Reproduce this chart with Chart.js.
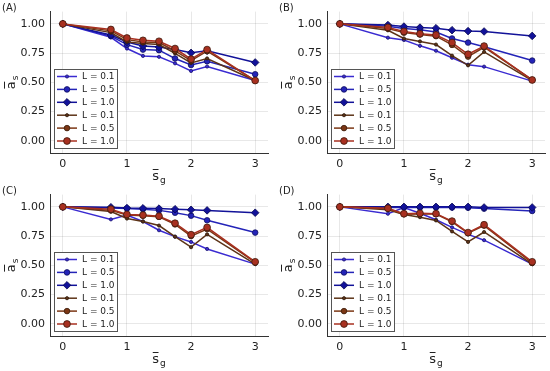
<!DOCTYPE html>
<html>
<head>
<meta charset="utf-8">
<script src="https://cdn.jsdelivr.net/npm/chart.js@4/dist/chart.umd.min.js"></script>
<style>
  html, body { margin: 0; padding: 0; background: #fff; width: 550px; height: 371px; overflow: hidden; }
  .panel { position: absolute; }
</style>
</head>
<body>
<canvas id="pA" class="panel" width="273" height="185" style="left:0px;top:0px"></canvas>
<canvas id="pB" class="panel" width="273" height="185" style="left:277px;top:0px"></canvas>
<canvas id="pC" class="panel" width="273" height="185" style="left:0px;top:183px"></canvas>
<canvas id="pD" class="panel" width="273" height="185" style="left:277px;top:183px"></canvas>
<script>
// ---- data ----
const xValues = [0, 0.75, 1, 1.25, 1.5, 1.75, 2, 2.25, 3];
const xTicks = [0, 1, 2, 3];
const yTicks = [0, 0.25, 0.5, 0.75, 1];
const panelLabels = ['(A)', '(B)', '(C)', '(D)'];
const seriesLabels = ['L = 0.1', 'L = 0.5', 'L = 1.0', 'L = 0.1', 'L = 0.5', 'L = 1.0'];

const aBlue01  = [1.00, 0.885, 0.789, 0.726, 0.718, 0.662, 0.597, 0.635, 0.515];
const aBlue05  = [1.00, 0.895, 0.822, 0.780, 0.775, 0.704, 0.648, 0.680, 0.569];
const aBlue10  = [1.00, 0.905, 0.845, 0.811, 0.802, 0.780, 0.752, 0.770, 0.670];
const aBrown01 = [1.00, 0.925, 0.845, 0.831, 0.823, 0.747, 0.665, 0.704, 0.515];
const aBrown05 = [1.00, 0.940, 0.865, 0.845, 0.840, 0.768, 0.685, 0.766, 0.515];
const aBrown10 = [1.00, 0.952, 0.879, 0.859, 0.851, 0.789, 0.698, 0.780, 0.515];

const bBlue01  = [1.00, 0.882, 0.862, 0.812, 0.770, 0.710, 0.651, 0.634, 0.510];
const bBlue05  = [1.00, 0.980, 0.960, 0.950, 0.930, 0.875, 0.840, 0.805, 0.686];
const bBlue10  = [1.00, 0.990, 0.977, 0.968, 0.963, 0.946, 0.938, 0.935, 0.897];
const bBrown01 = [1.00, 0.945, 0.875, 0.850, 0.823, 0.728, 0.645, 0.760, 0.515];
const bBrown05 = [1.00, 0.960, 0.925, 0.910, 0.895, 0.820, 0.720, 0.800, 0.520];
const bBrown10 = [1.00, 0.970, 0.935, 0.915, 0.905, 0.840, 0.740, 0.810, 0.520];

const cBlue01  = [1.00, 0.893, 0.930, 0.875, 0.800, 0.745, 0.700, 0.640, 0.510];
const cBlue05  = [1.00, 0.990, 0.985, 0.980, 0.970, 0.950, 0.925, 0.885, 0.780];
const cBlue10  = [1.00, 0.997, 0.990, 0.988, 0.985, 0.980, 0.975, 0.970, 0.950];
const cBrown01 = [1.00, 0.960, 0.900, 0.875, 0.840, 0.745, 0.655, 0.765, 0.510];
const cBrown05 = [1.00, 0.970, 0.930, 0.925, 0.915, 0.850, 0.750, 0.810, 0.525];
const cBrown10 = [1.00, 0.980, 0.935, 0.930, 0.920, 0.860, 0.762, 0.824, 0.530];

const dBlue01  = [1.00, 0.941, 0.995, 0.945, 0.890, 0.825, 0.765, 0.715, 0.510];
const dBlue05  = [1.00, 0.995, 0.995, 0.995, 0.995, 0.995, 0.993, 0.985, 0.965];
const dBlue10  = [1.00, 1.000, 1.000, 1.000, 1.000, 1.000, 1.000, 0.995, 0.995];
const dBrown01 = [1.00, 0.975, 0.935, 0.912, 0.884, 0.790, 0.700, 0.785, 0.510];
const dBrown05 = [1.00, 0.983, 0.937, 0.940, 0.938, 0.872, 0.775, 0.840, 0.520];
const dBrown10 = [1.00, 0.988, 0.941, 0.945, 0.942, 0.878, 0.780, 0.847, 0.530];

const panels = [
  ['pA', [aBlue01, aBlue05, aBlue10, aBrown01, aBrown05, aBrown10]],
  ['pB', [bBlue01, bBlue05, bBlue10, bBrown01, bBrown05, bBrown10]],
  ['pC', [cBlue01, cBlue05, cBlue10, cBrown01, cBrown05, cBrown10]],
  ['pD', [dBlue01, dBlue05, dBlue10, dBrown01, dBrown05, dBrown10]]
];

// ---- styles ----
const FONT = 'DejaVu Sans';
const lineColors = ['#3a2bd1', '#2424b8', '#121299', '#5c3317', '#7b3614', '#a83020'];
const markerBorders = ['#1a1470', '#10105e', '#080850', '#2e1a0c', '#3a1c0a', '#3d1a0c'];
const markerStyles = ['circle', 'circle', 'rectRot', 'circle', 'circle', 'circle'];
const markerRadii = [1.6, 2.8, 3.8, 1.6, 2.8, 3.4];

function drawTitleWithBar(ctx, base, sub, x, y, rotate) {
  ctx.save();
  ctx.translate(x, y);
  if (rotate) ctx.rotate(-Math.PI / 2);
  ctx.fillStyle = '#222';
  ctx.strokeStyle = '#222';
  ctx.font = '13px "' + FONT + '"';
  const wb = ctx.measureText(base).width;
  ctx.font = '9px "' + FONT + '"';
  const ws = ctx.measureText(sub).width;
  const total = wb + ws + 1;
  const x0 = -total / 2;
  ctx.textBaseline = 'alphabetic';
  ctx.textAlign = 'left';
  ctx.font = '13px "' + FONT + '"';
  ctx.fillText(base, x0, 4);
  ctx.lineWidth = 1;
  ctx.beginPath();
  ctx.moveTo(x0 + 0.5, -6.5);
  ctx.lineTo(x0 + wb - 0.5, -6.5);
  ctx.stroke();
  ctx.font = '9px "' + FONT + '"';
  ctx.fillText(sub, x0 + wb + 1, 7);
  ctx.restore();
}

const panelPlugin = {
  id: 'panelDeco',
  afterDraw(chart, args, opts) {
    const ctx = chart.ctx;
    const ca = chart.chartArea;
    // panel label
    ctx.save();
    ctx.fillStyle = '#222';
    ctx.font = '10px "' + FONT + '"';
    ctx.textBaseline = 'middle';
    ctx.textAlign = 'left';
    ctx.fillText(opts.label, 2, 8);
    ctx.restore();
    // axis titles
    drawTitleWithBar(ctx, 's', 'g', (ca.left + ca.right) / 2, 176, false);
    drawTitleWithBar(ctx, 'a', 's', 11, (ca.top + ca.bottom) / 2, true);
    // legend
    const bx = ca.left + 4, bw = 63, bh = 79, by = ca.bottom - 5 - bh;
    ctx.save();
    ctx.fillStyle = '#ffffff';
    ctx.fillRect(bx, by, bw, bh);
    ctx.strokeStyle = '#555';
    ctx.lineWidth = 1;
    ctx.strokeRect(bx + 0.5, by + 0.5, bw, bh);
    chart.data.datasets.forEach((ds, i) => {
      const yy = by + 7.5 + i * 12.9;
      ctx.strokeStyle = ds.borderColor;
      ctx.lineWidth = ds.borderWidth;
      ctx.beginPath();
      ctx.moveTo(bx + 3, yy);
      ctx.lineTo(bx + 23, yy);
      ctx.stroke();
      ctx.fillStyle = ds.pointBackgroundColor;
      ctx.strokeStyle = ds.pointBorderColor;
      ctx.lineWidth = ds.pointBorderWidth;
      Chart.helpers.drawPoint(ctx, {
        pointStyle: ds.pointStyle, radius: ds.pointRadius, rotation: 0, borderWidth: ds.pointBorderWidth
      }, bx + 13, yy);
      ctx.fillStyle = '#222';
      ctx.font = '9px "' + FONT + '"';
      ctx.textBaseline = 'middle';
      ctx.textAlign = 'left';
      ctx.fillText(ds.label, bx + 28, yy + 0.5);
    });
    ctx.restore();
  }
};

panels.forEach(([id, series], p) => {
  const datasets = series.map((vals, i) => ({
    label: seriesLabels[i],
    data: xValues.map((x, k) => ({ x: x, y: vals[k] })),
    borderColor: lineColors[i],
    backgroundColor: lineColors[i],
    borderWidth: 1.5,
    pointStyle: markerStyles[i],
    pointRadius: markerRadii[i],
    pointHoverRadius: markerRadii[i],
    pointBackgroundColor: lineColors[i],
    pointBorderColor: markerBorders[i],
    pointBorderWidth: 0.8,
    tension: 0,
    fill: false,
    order: 5 - i
  }));
  new Chart(document.getElementById(id), {
    type: 'line',
    data: { datasets: datasets },
    plugins: [panelPlugin],
    options: {
      responsive: false,
      animation: false,
      devicePixelRatio: 1,
      layout: { padding: { top: 10, right: 5, left: 0, bottom: 0 } },
      plugins: {
        legend: { display: false },
        tooltip: { enabled: false },
        panelDeco: { label: panelLabels[p] }
      },
      scales: {
        x: {
          type: 'linear',
          min: -0.2, max: 3.2,
          afterBuildTicks: s => { s.ticks = xTicks.map(v => ({ value: v })); },
          afterFit: s => { s.height = 32; },
          grid: { color: 'rgba(0,0,0,0.09)', drawTicks: false },
          border: { color: '#333', width: 1 },
          ticks: { padding: 5, color: '#222', font: { family: FONT, size: 11 }, callback: v => String(v) }
        },
        y: {
          type: 'linear',
          min: -0.105, max: 1.105,
          afterBuildTicks: s => { s.ticks = yTicks.map(v => ({ value: v })); },
          afterFit: s => { s.width = 50; },
          grid: { color: 'rgba(0,0,0,0.09)', drawTicks: false },
          border: { color: '#333', width: 1 },
          ticks: { padding: 5, color: '#222', font: { family: FONT, size: 11 }, callback: v => Number(v).toFixed(2) }
        }
      }
    }
  });
});
</script>
</body>
</html>
